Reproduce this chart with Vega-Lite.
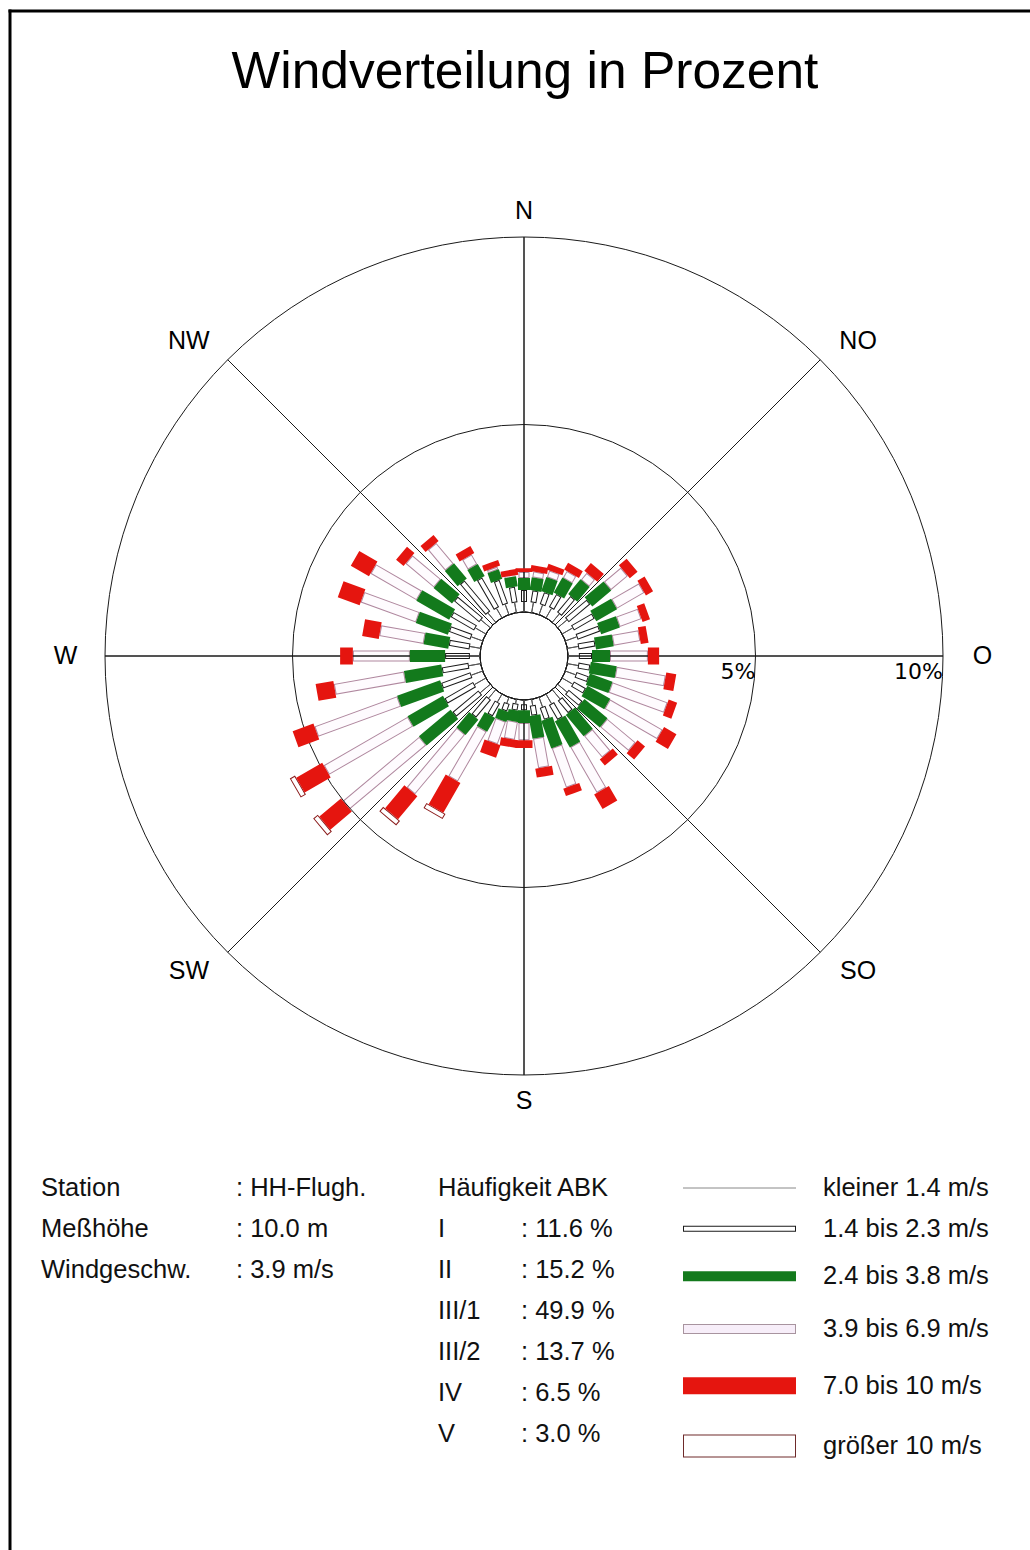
{
  "$schema": "https://vega.github.io/schema/vega-lite/v6.json",
  "width": 1020,
  "height": 1539,
  "autosize": {"type": "none"},
  "padding": {"left": 10, "top": 11, "right": 0, "bottom": 0},
  "background": "white",
  "config": {"view": {"stroke": null}, "font": "Liberation Sans"},
  "datasets": {
    "wind": [
      {"d":0,"c":1,"p":0.27},{"d":0,"c":2,"p":0.32},{"d":0,"c":3,"p":0.32},{"d":0,"c":4,"p":0.16},{"d":0,"c":5,"p":0.10},
      {"d":10,"c":1,"p":0.27},{"d":10,"c":2,"p":0.32},{"d":10,"c":3,"p":0.34},{"d":10,"c":4,"p":0.16},{"d":10,"c":5,"p":0.16},
      {"d":20,"c":1,"p":0.27},{"d":20,"c":2,"p":0.34},{"d":20,"c":3,"p":0.40},{"d":20,"c":4,"p":0.19},{"d":20,"c":5,"p":0.16},
      {"d":30,"c":1,"p":0.29},{"d":30,"c":2,"p":0.40},{"d":30,"c":3,"p":0.46},{"d":30,"c":4,"p":0.21},{"d":30,"c":5,"p":0.21},
      {"d":40,"c":1,"p":0.29},{"d":40,"c":2,"p":0.56},{"d":40,"c":3,"p":0.51},{"d":40,"c":4,"p":0.24},{"d":40,"c":5,"p":0.27},
      {"d":50,"c":1,"p":0.32},{"d":50,"c":2,"p":0.75},{"d":50,"c":3,"p":0.66},{"d":50,"c":4,"p":0.59},{"d":50,"c":5,"p":0.27},
      {"d":60,"c":1,"p":0.32},{"d":60,"c":2,"p":0.64},{"d":60,"c":3,"p":0.64},{"d":60,"c":4,"p":0.85},{"d":60,"c":5,"p":0.22},
      {"d":70,"c":1,"p":0.32},{"d":70,"c":2,"p":0.64},{"d":70,"c":3,"p":0.53},{"d":70,"c":4,"p":0.62},{"d":70,"c":5,"p":0.21},
      {"d":80,"c":1,"p":0.29},{"d":80,"c":2,"p":0.46},{"d":80,"c":3,"p":0.48},{"d":80,"c":4,"p":0.72},{"d":80,"c":5,"p":0.21},
      {"d":90,"c":1,"p":0.29},{"d":90,"c":2,"p":0.35},{"d":90,"c":3,"p":0.48},{"d":90,"c":4,"p":1.01},{"d":90,"c":5,"p":0.30},
      {"d":100,"c":1,"p":0.29},{"d":100,"c":2,"p":0.32},{"d":100,"c":3,"p":0.70},{"d":100,"c":4,"p":1.33},{"d":100,"c":5,"p":0.27},
      {"d":110,"c":1,"p":0.29},{"d":110,"c":2,"p":0.35},{"d":110,"c":3,"p":0.64},{"d":110,"c":4,"p":1.57},{"d":110,"c":5,"p":0.24},
      {"d":120,"c":1,"p":0.32},{"d":120,"c":2,"p":0.37},{"d":120,"c":3,"p":0.70},{"d":120,"c":4,"p":1.62},{"d":120,"c":5,"p":0.38},
      {"d":130,"c":1,"p":0.32},{"d":130,"c":2,"p":0.48},{"d":130,"c":3,"p":0.80},{"d":130,"c":4,"p":0.99},{"d":130,"c":5,"p":0.26},
      {"d":140,"c":1,"p":0.32},{"d":140,"c":2,"p":0.43},{"d":140,"c":3,"p":0.74},{"d":140,"c":4,"p":0.75},{"d":140,"c":5,"p":0.21},
      {"d":150,"c":1,"p":0.29},{"d":150,"c":2,"p":0.46},{"d":150,"c":3,"p":0.80},{"d":150,"c":4,"p":1.41},{"d":150,"c":5,"p":0.45},
      {"d":160,"c":1,"p":0.27},{"d":160,"c":2,"p":0.34},{"d":160,"c":3,"p":0.78},{"d":160,"c":4,"p":1.12},{"d":160,"c":5,"p":0.21},
      {"d":170,"c":1,"p":0.16},{"d":170,"c":2,"p":0.27},{"d":170,"c":3,"p":0.61},{"d":170,"c":4,"p":0.80},{"d":170,"c":5,"p":0.24},
      {"d":180,"c":1,"p":0.11},{"d":180,"c":2,"p":0.16},{"d":180,"c":3,"p":0.34},{"d":180,"c":4,"p":0.46},{"d":180,"c":5,"p":0.21},
      {"d":190,"c":1,"p":0.11},{"d":190,"c":2,"p":0.18},{"d":190,"c":3,"p":0.30},{"d":190,"c":4,"p":0.48},{"d":190,"c":5,"p":0.21},
      {"d":200,"c":1,"p":0.16},{"d":200,"c":2,"p":0.21},{"d":200,"c":3,"p":0.27},{"d":200,"c":4,"p":0.64},{"d":200,"c":5,"p":0.35},
      {"d":210,"c":1,"p":0.24},{"d":210,"c":2,"p":0.40},{"d":210,"c":3,"p":0.43},{"d":210,"c":4,"p":1.54},{"d":210,"c":5,"p":0.91},{"d":210,"c":6,"p":0.16},
      {"d":220,"c":1,"p":0.29},{"d":220,"c":2,"p":0.62},{"d":220,"c":3,"p":0.53},{"d":220,"c":4,"p":2.08},{"d":220,"c":5,"p":0.80},{"d":220,"c":6,"p":0.16},
      {"d":230,"c":1,"p":0.35},{"d":230,"c":2,"p":0.90},{"d":230,"c":3,"p":1.10},{"d":230,"c":4,"p":2.66},{"d":230,"c":5,"p":0.75},{"d":230,"c":6,"p":0.16},
      {"d":240,"c":1,"p":0.35},{"d":240,"c":2,"p":0.88},{"d":240,"c":3,"p":1.09},{"d":240,"c":4,"p":2.59},{"d":240,"c":5,"p":0.80},{"d":240,"c":6,"p":0.16},
      {"d":250,"c":1,"p":0.32},{"d":250,"c":2,"p":0.83},{"d":250,"c":3,"p":1.22},{"d":250,"c":4,"p":2.35},{"d":250,"c":5,"p":0.59},
      {"d":260,"c":1,"p":0.32},{"d":260,"c":2,"p":0.72},{"d":260,"c":3,"p":1.01},{"d":260,"c":4,"p":1.90},{"d":260,"c":5,"p":0.48},
      {"d":270,"c":1,"p":0.27},{"d":270,"c":2,"p":0.66},{"d":270,"c":3,"p":0.94},{"d":270,"c":4,"p":1.52},{"d":270,"c":5,"p":0.34},
      {"d":280,"c":1,"p":0.29},{"d":280,"c":2,"p":0.56},{"d":280,"c":3,"p":0.67},{"d":280,"c":4,"p":1.20},{"d":280,"c":5,"p":0.45},
      {"d":290,"c":1,"p":0.32},{"d":290,"c":2,"p":0.61},{"d":290,"c":3,"p":0.91},{"d":290,"c":4,"p":1.57},{"d":290,"c":5,"p":0.62},
      {"d":300,"c":1,"p":0.32},{"d":300,"c":2,"p":0.72},{"d":300,"c":3,"p":1.01},{"d":300,"c":4,"p":1.42},{"d":300,"c":5,"p":0.56},
      {"d":310,"c":1,"p":0.32},{"d":310,"c":2,"p":0.88},{"d":310,"c":3,"p":0.64},{"d":310,"c":4,"p":0.99},{"d":310,"c":5,"p":0.26},
      {"d":320,"c":1,"p":0.32},{"d":320,"c":2,"p":1.07},{"d":320,"c":3,"p":0.53},{"d":320,"c":4,"p":0.72},{"d":320,"c":5,"p":0.21},
      {"d":330,"c":1,"p":0.29},{"d":330,"c":2,"p":0.91},{"d":330,"c":3,"p":0.37},{"d":330,"c":4,"p":0.30},{"d":330,"c":5,"p":0.21},
      {"d":340,"c":1,"p":0.29},{"d":340,"c":2,"p":0.67},{"d":340,"c":3,"p":0.27},{"d":340,"c":4,"p":0.08},{"d":340,"c":5,"p":0.16},
      {"d":350,"c":1,"p":0.27},{"d":350,"c":2,"p":0.42},{"d":350,"c":3,"p":0.27},{"d":350,"c":4,"p":0.03},{"d":350,"c":5,"p":0.16}
    ],
    "rings": [{"r":0},{"r":5},{"r":10}],
    "spokes": [{"deg":0},{"deg":45},{"deg":90},{"deg":135},{"deg":180},{"deg":225},{"deg":270},{"deg":315}],
    "dirs": [
      {"lab":"N","deg":0,"side":"v"},{"lab":"NO","deg":45,"side":"r"},{"lab":"O","deg":90,"side":"h"},{"lab":"SO","deg":135,"side":"r"},
      {"lab":"S","deg":180,"side":"v"},{"lab":"SW","deg":225,"side":"l"},{"lab":"W","deg":270,"side":"h"},{"lab":"NW","deg":315,"side":"l"}
    ],
    "pctlabels": [{"lab":"5%","r":5},{"lab":"10%","r":10}],
    "info": [
      {"t":"Station","row":1,"col":"a"},{"t":": HH-Flugh.","row":1,"col":"b"},
      {"t":"Meßhöhe","row":2,"col":"a"},{"t":": 10.0 m","row":2,"col":"b"},
      {"t":"Windgeschw.","row":3,"col":"a"},{"t":": 3.9 m/s","row":3,"col":"b"},
      {"t":"Häufigkeit ABK","row":1,"col":"c"},
      {"t":"I","row":2,"col":"c"},{"t":": 11.6 %","row":2,"col":"d"},
      {"t":"II","row":3,"col":"c"},{"t":": 15.2 %","row":3,"col":"d"},
      {"t":"III/1","row":4,"col":"c"},{"t":": 49.9 %","row":4,"col":"d"},
      {"t":"III/2","row":5,"col":"c"},{"t":": 13.7 %","row":5,"col":"d"},
      {"t":"IV","row":6,"col":"c"},{"t":": 6.5 %","row":6,"col":"d"},
      {"t":"V","row":7,"col":"c"},{"t":": 3.0 %","row":7,"col":"d"}
    ],
    "classes": [
      {"c":1,"lab":"kleiner 1.4 m/s"},{"c":2,"lab":"1.4 bis 2.3 m/s"},{"c":3,"lab":"2.4 bis 3.8 m/s"},
      {"c":4,"lab":"3.9 bis 6.9 m/s"},{"c":5,"lab":"7.0 bis 10 m/s"},{"c":6,"lab":"größer 10 m/s"}
    ]
  },
  "layer": [
    {
      "data": {"values": [{"t": "Windverteilung in Prozent"}]},
      "layer": [
        {
          "mark": {"type": "rule", "stroke": "#000", "strokeWidth": 3, "strokeCap": "square"},
          "encoding": {
            "x": {"datum": 0, "type": "quantitative", "scale": {"domain": [0, 1], "nice": false}, "axis": null},
            "y": {"datum": 0, "type": "quantitative", "scale": {"domain": [0, 1], "nice": false}, "axis": null},
            "y2": {"datum": 1}
          }
        },
        {
          "mark": {"type": "rule", "stroke": "#000", "strokeWidth": 3, "strokeCap": "square"},
          "encoding": {
            "x": {"datum": 0, "type": "quantitative", "scale": {"domain": [0, 1], "nice": false}, "axis": null},
            "x2": {"datum": 1},
            "y": {"datum": 1, "type": "quantitative", "scale": {"domain": [0, 1], "nice": false}, "axis": null}
          }
        },
        {
          "mark": {"type": "text", "fontSize": 51.5, "font": "Liberation Sans", "align": "center", "baseline": "alphabetic", "dx": 5, "dy": 77, "color": "#000"},
          "encoding": {
            "x": {"datum": 0.5, "type": "quantitative", "scale": {"domain": [0, 1], "nice": false}, "axis": null},
            "y": {"datum": 1, "type": "quantitative", "scale": {"domain": [0, 1], "nice": false}, "axis": null},
            "text": {"field": "t"}
          }
        }
      ]
    },
    {
      "encoding": {
        "x": {"datum": 0, "type": "quantitative", "scale": {"domain": [-514, 506], "nice": false, "zero": false}, "axis": null},
        "y": {"datum": 0, "type": "quantitative", "scale": {"domain": [-894, 645], "nice": false, "zero": false}, "axis": null}
      },
      "layer": [
        {
          "data": {"name": "wind"},
          "transform": [
            {"stack": "p", "groupby": ["d"], "sort": [{"field": "c", "order": "ascending"}], "as": ["p0", "p1"]},
            {"filter": "datum.c == 2 || datum.c == 4 || datum.c == 6"}
          ],
          "mark": {"type": "arc", "filled": false},
          "encoding": {
            "theta": {"field": "d", "type": "quantitative", "scale": {"type": "linear", "domain": [0, 360], "range": [0, 6.283185307179586], "nice": false}, "stack": null},
            "theta2": {"field": "d"},
            "radius": {"field": "p1", "type": "quantitative", "scale": {"type": "linear", "domain": [0, 10], "range": [44, 419], "zero": false, "nice": false}, "stack": null},
            "radius2": {"field": "p0"},
            "stroke": {"condition": [{"test": "datum.c == 2", "value": "#1a1a1a"}, {"test": "datum.c == 4", "value": "#b0889f"}], "value": "#8b1c1c"},
            "strokeWidth": {"condition": [{"test": "datum.c == 2", "value": 6}, {"test": "datum.c == 4", "value": 11}], "value": 22}
          }
        },
        {
          "data": {"name": "wind"},
          "transform": [
            {"stack": "p", "groupby": ["d"], "sort": [{"field": "c", "order": "ascending"}], "as": ["p0", "p1"]},
            {"filter": "datum.c == 2 || datum.c == 4 || datum.c == 6"}
          ],
          "mark": {"type": "arc", "filled": false, "radiusOffset": -1, "radius2Offset": 1},
          "encoding": {
            "theta": {"field": "d", "type": "quantitative", "scale": {"type": "linear", "domain": [0, 360], "range": [0, 6.283185307179586], "nice": false}, "stack": null},
            "theta2": {"field": "d"},
            "radius": {"field": "p1", "type": "quantitative", "scale": {"type": "linear", "domain": [0, 10], "range": [44, 419], "zero": false, "nice": false}, "stack": null},
            "radius2": {"field": "p0"},
            "stroke": {"condition": [{"test": "datum.c == 4", "value": "#fefbfe"}], "value": "#ffffff"},
            "strokeWidth": {"condition": [{"test": "datum.c == 2", "value": 4}, {"test": "datum.c == 4", "value": 9}], "value": 20}
          }
        },
        {
          "data": {"name": "rings"},
          "mark": {"type": "arc", "filled": false, "stroke": "#1a1a1a", "strokeWidth": 1},
          "encoding": {
            "theta": {"datum": 0, "type": "quantitative", "scale": {"type": "linear", "domain": [0, 360], "range": [0, 6.283185307179586], "nice": false}, "stack": null},
            "theta2": {"datum": 360},
            "radius": {"field": "r", "type": "quantitative", "scale": {"type": "linear", "domain": [0, 10], "range": [44, 419], "zero": false, "nice": false}, "stack": null}
          }
        },
        {
          "data": {"name": "spokes"},
          "mark": {"type": "arc", "filled": false, "stroke": "#1a1a1a", "strokeWidth": 1},
          "encoding": {
            "theta": {"field": "deg", "type": "quantitative", "scale": {"type": "linear", "domain": [0, 360], "range": [0, 6.283185307179586], "nice": false}, "stack": null},
            "theta2": {"field": "deg"},
            "radius": {"datum": 10, "type": "quantitative", "scale": {"type": "linear", "domain": [0, 10], "range": [44, 419], "zero": false, "nice": false}, "stack": null},
            "radius2": {"datum": 0}
          }
        },
        {
          "data": {"name": "wind"},
          "transform": [
            {"stack": "p", "groupby": ["d"], "sort": [{"field": "c", "order": "ascending"}], "as": ["p0", "p1"]},
            {"filter": "datum.c == 1 || datum.c == 3 || datum.c == 5"}
          ],
          "mark": {"type": "arc", "filled": false},
          "encoding": {
            "theta": {"field": "d", "type": "quantitative", "scale": {"type": "linear", "domain": [0, 360], "range": [0, 6.283185307179586], "nice": false}, "stack": null},
            "theta2": {"field": "d"},
            "radius": {"field": "p1", "type": "quantitative", "scale": {"type": "linear", "domain": [0, 10], "range": [44, 419], "zero": false, "nice": false}, "stack": null},
            "radius2": {"field": "p0"},
            "stroke": {"condition": [{"test": "datum.c == 3", "value": "#137a1c"}, {"test": "datum.c == 5", "value": "#e5150f"}], "value": "#555555"},
            "strokeWidth": {"condition": [{"test": "datum.c == 3", "value": 12}, {"test": "datum.c == 5", "value": 17}], "value": 1}
          }
        },
        {
          "data": {"name": "dirs"},
          "transform": [{"filter": "datum.side == 'v'"}],
          "mark": {"type": "text", "fontSize": 25, "font": "Liberation Sans", "align": "center", "baseline": "middle", "color": "#000"},
          "encoding": {
            "theta": {"field": "deg", "type": "quantitative", "scale": {"type": "linear", "domain": [0, 360], "range": [0, 6.283185307179586], "nice": false}, "stack": null},
            "radius": {"datum": 10.7, "type": "quantitative", "scale": {"type": "linear", "domain": [0, 10], "range": [44, 419], "zero": false, "nice": false}, "stack": null},
            "text": {"field": "lab"}
          }
        },
        {
          "data": {"name": "dirs"},
          "transform": [{"filter": "datum.side == 'h'"}],
          "mark": {"type": "text", "fontSize": 25, "font": "Liberation Sans", "align": "center", "baseline": "middle", "color": "#000"},
          "encoding": {
            "theta": {"field": "deg", "type": "quantitative", "scale": {"type": "linear", "domain": [0, 360], "range": [0, 6.283185307179586], "nice": false}, "stack": null},
            "radius": {"datum": 11.05, "type": "quantitative", "scale": {"type": "linear", "domain": [0, 10], "range": [44, 419], "zero": false, "nice": false}, "stack": null},
            "text": {"field": "lab"}
          }
        },
        {
          "data": {"name": "dirs"},
          "transform": [{"filter": "datum.side == 'r'"}],
          "mark": {"type": "text", "fontSize": 25, "font": "Liberation Sans", "align": "center", "baseline": "middle", "dx": 19, "color": "#000"},
          "encoding": {
            "theta": {"field": "deg", "type": "quantitative", "scale": {"type": "linear", "domain": [0, 360], "range": [0, 6.283185307179586], "nice": false}, "stack": null},
            "radius": {"datum": 10.71, "type": "quantitative", "scale": {"type": "linear", "domain": [0, 10], "range": [44, 419], "zero": false, "nice": false}, "stack": null},
            "text": {"field": "lab"}
          }
        },
        {
          "data": {"name": "dirs"},
          "transform": [{"filter": "datum.side == 'l'"}],
          "mark": {"type": "text", "fontSize": 25, "font": "Liberation Sans", "align": "center", "baseline": "middle", "dx": -20, "color": "#000"},
          "encoding": {
            "theta": {"field": "deg", "type": "quantitative", "scale": {"type": "linear", "domain": [0, 360], "range": [0, 6.283185307179586], "nice": false}, "stack": null},
            "radius": {"datum": 10.71, "type": "quantitative", "scale": {"type": "linear", "domain": [0, 10], "range": [44, 419], "zero": false, "nice": false}, "stack": null},
            "text": {"field": "lab"}
          }
        },
        {
          "data": {"name": "pctlabels"},
          "mark": {"type": "text", "fontSize": 22, "font": "DejaVu Sans", "align": "right", "baseline": "middle", "dy": 16, "color": "#000"},
          "encoding": {
            "theta": {"datum": 90, "type": "quantitative", "scale": {"type": "linear", "domain": [0, 360], "range": [0, 6.283185307179586], "nice": false}, "stack": null},
            "radius": {"field": "r", "type": "quantitative", "scale": {"type": "linear", "domain": [0, 10], "range": [44, 419], "zero": false, "nice": false}, "stack": null},
            "text": {"field": "lab"}
          }
        }
      ]
    },
    {
      "data": {"name": "info"},
      "transform": [{"filter": "datum.col == 'a' || datum.col == 'b'"}],
      "mark": {"type": "text", "fontSize": 25.5, "font": "Liberation Sans", "align": "left", "baseline": "middle", "color": "#111"},
      "encoding": {
        "x": {"field": "col", "type": "nominal", "scale": {"type": "point", "domain": ["a", "b"], "range": [31, 226], "padding": 0}, "axis": null},
        "y": {"field": "row", "type": "ordinal", "scale": {"type": "point", "domain": [1, 2, 3, 4, 5, 6, 7], "range": [1177, 1423], "padding": 0}, "axis": null},
        "text": {"field": "t"}
      }
    },
    {
      "data": {"name": "info"},
      "transform": [{"filter": "datum.col == 'c' || datum.col == 'd'"}],
      "mark": {"type": "text", "fontSize": 25.5, "font": "Liberation Sans", "align": "left", "baseline": "middle", "color": "#111"},
      "encoding": {
        "x": {"field": "col", "type": "nominal", "scale": {"type": "point", "domain": ["c", "d"], "range": [428, 511], "padding": 0}, "axis": null},
        "y": {"field": "row", "type": "ordinal", "scale": {"type": "point", "domain": [1, 2, 3, 4, 5, 6, 7], "range": [1177, 1423], "padding": 0}, "axis": null},
        "text": {"field": "t"}
      }
    },
    {
      "data": {"name": "classes"},
      "encoding": {
        "x": {"datum": 0, "type": "quantitative", "scale": {"domain": [0, 1], "range": [673, 786], "nice": false}, "axis": null},
        "x2": {"datum": 1},
        "y": {"field": "c", "type": "quantitative", "scale": {"type": "pow", "exponent": 1.3, "domain": [1, 6], "range": [1177, 1435], "nice": false, "zero": false}, "axis": null}
      },
      "layer": [
        {
          "transform": [{"filter": "datum.c == 2 || datum.c == 4 || datum.c == 6"}],
          "mark": {"type": "rule"},
          "encoding": {
            "stroke": {"condition": [{"test": "datum.c == 2", "value": "#1a1a1a"}, {"test": "datum.c == 4", "value": "#a8949f"}], "value": "#6e2a2a"},
            "strokeWidth": {"condition": [{"test": "datum.c == 2", "value": 6}, {"test": "datum.c == 4", "value": 10}], "value": 23}
          }
        },
        {
          "transform": [{"filter": "datum.c == 2 || datum.c == 4 || datum.c == 6"}],
          "mark": {"type": "rule", "xOffset": 1, "x2Offset": -1},
          "encoding": {
            "stroke": {"condition": [{"test": "datum.c == 4", "value": "#f7eef9"}], "value": "#ffffff"},
            "strokeWidth": {"condition": [{"test": "datum.c == 2", "value": 4}, {"test": "datum.c == 4", "value": 8}], "value": 21}
          }
        },
        {
          "transform": [{"filter": "datum.c == 1 || datum.c == 3 || datum.c == 5"}],
          "mark": {"type": "rule"},
          "encoding": {
            "stroke": {"condition": [{"test": "datum.c == 3", "value": "#137a1c"}, {"test": "datum.c == 5", "value": "#e5150f"}], "value": "#888888"},
            "strokeWidth": {"condition": [{"test": "datum.c == 3", "value": 10}, {"test": "datum.c == 5", "value": 17}], "value": 1}
          }
        }
      ]
    },
    {
      "data": {"name": "classes"},
      "mark": {"type": "text", "fontSize": 25.5, "font": "Liberation Sans", "align": "left", "baseline": "middle", "color": "#111"},
      "encoding": {
        "x": {"datum": 0, "type": "quantitative", "scale": {"domain": [0, 1], "range": [813, 900], "nice": false}, "axis": null},
        "y": {"field": "c", "type": "quantitative", "scale": {"type": "pow", "exponent": 1.3, "domain": [1, 6], "range": [1177, 1435], "nice": false, "zero": false}, "axis": null},
        "text": {"field": "lab"}
      }
    }
  ],
  "resolve": {"scale": {"x": "independent", "y": "independent"}}
}
